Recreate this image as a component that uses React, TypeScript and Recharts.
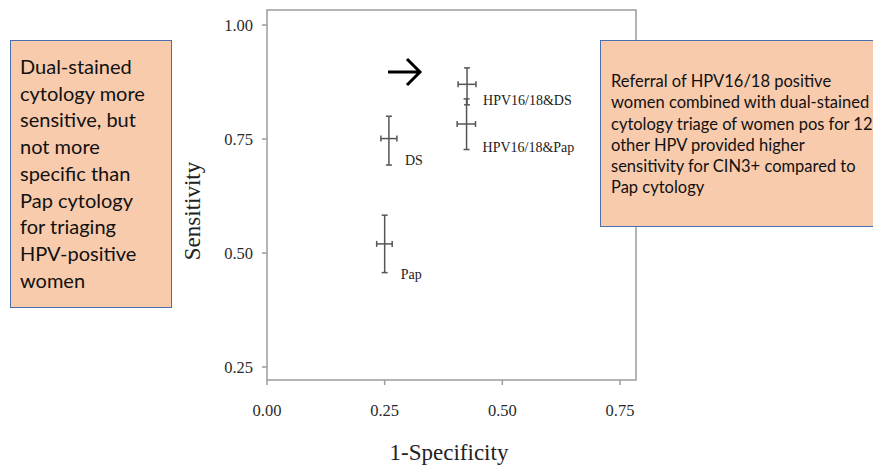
import React from "react";
import { ErrorBar, Label, ReferenceArea, Scatter, ScatterChart, XAxis, YAxis } from "recharts";

// Triage strategies: point estimates with 95% CI for 1-specificity (x) and sensitivity (y)
const strategies = ["Pap", "DS", "HPV16/18&DS", "HPV16/18&Pap"];
const fpr = [0.25, 0.259, 0.425, 0.424];
const fprLow = [0.233, 0.242, 0.406, 0.404];
const fprHigh = [0.266, 0.276, 0.444, 0.443];
const sens = [0.52, 0.751, 0.87, 0.783];
const sensLow = [0.457, 0.693, 0.825, 0.727];
const sensHigh = [0.583, 0.8, 0.906, 0.838];

const xTicks = [0, 0.25, 0.5, 0.75];
const yTicks = [0.25, 0.5, 0.75, 1.0];
const xDomain: [number, number] = [0, 0.784];
const yDomain: [number, number] = [0.2215, 1.033];

const leftNote = [
  "Dual-stained",
  "cytology more",
  "sensitive, but",
  "not more",
  "specific than",
  "Pap cytology",
  "for triaging",
  "HPV-positive",
  "women",
];
const rightNote = [
  "Referral of HPV16/18 positive",
  "women combined with dual-stained",
  "cytology triage of women pos for 12",
  "other HPV provided higher",
  "sensitivity for CIN3+ compared to",
  "Pap cytology",
];

const points = strategies.map((name, i) => ({
  name,
  fpr: fpr[i],
  sens: sens[i],
  fprErr: [fpr[i] - fprLow[i], fprHigh[i] - fpr[i]],
  sensErr: [sens[i] - sensLow[i], sensHigh[i] - sens[i]],
}));

// labels sit to the lower right of each cross; vertical nudge per strategy so they don't collide
const labelDy: Record<string, number> = {
  Pap: 31,
  DS: 22,
  "HPV16/18&DS": 16,
  "HPV16/18&Pap": 24,
};

const serif = "'Liberation Serif', 'Times New Roman', serif";
const frame = "#9c9c9c";
const barColor = "#555";

function PointLabel(props: any) {
  const { cx, cy, payload } = props;
  return (
    <text
      x={cx + 16}
      y={cy + (labelDy[payload.name] ?? 20)}
      dominantBaseline="central"
      fontFamily={serif}
      fontSize={14}
      fill="#222"
    >
      {payload.name}
    </text>
  );
}

const noteBox: React.CSSProperties = {
  position: "absolute",
  background: "#F8CBAD",
  border: "1px solid #4a6fb0",
  boxSizing: "border-box",
  fontFamily: "Lato, 'Open Sans', sans-serif",
  color: "#111",
  whiteSpace: "nowrap",
};

export default function App() {
  return (
    <div
      style={{
        position: "absolute",
        left: 0,
        top: 0,
        width: 873,
        height: 468,
        overflow: "hidden",
        background: "#fff",
      }}
    >
      <ScatterChart width={873} height={468} margin={{ top: 10, right: 237, bottom: 0, left: 0 }}>
        <XAxis
          type="number"
          dataKey="fpr"
          domain={xDomain}
          ticks={xTicks}
          allowDataOverflow
          height={88}
          axisLine={false}
          tickSize={5}
          tickMargin={19}
          tickLine={{ stroke: frame, strokeWidth: 1.5 }}
          tick={{ fill: "#2a2a2a", fontSize: 16.5, fontFamily: serif }}
          tickFormatter={(v: number) => v.toFixed(2)}
        >
          <Label
            content={() => (
              <text x={449} y={452} textAnchor="middle" dominantBaseline="central" fontFamily={serif} fontSize={23} fill="#222">
                1-Specificity
              </text>
            )}
          />
        </XAxis>
        <YAxis
          type="number"
          dataKey="sens"
          domain={yDomain}
          ticks={yTicks}
          allowDataOverflow
          width={267}
          axisLine={false}
          tickSize={5}
          tickMargin={9}
          tickLine={{ stroke: frame, strokeWidth: 1.5 }}
          tick={{ fill: "#2a2a2a", fontSize: 16.5, fontFamily: serif }}
          tickFormatter={(v: number) => v.toFixed(2)}
        >
          <Label
            content={() => (
              <text
                transform="translate(192,211) rotate(-90)"
                textAnchor="middle"
                dominantBaseline="central"
                fontFamily={serif}
                fontSize={23}
                fill="#222"
              >
                Sensitivity
              </text>
            )}
          />
        </YAxis>
        <ReferenceArea
          x1={xDomain[0]}
          x2={xDomain[1]}
          y1={yDomain[0]}
          y2={yDomain[1]}
          fill="none"
          stroke={frame}
          strokeWidth={1.5}
        />
        <Scatter data={points} shape={PointLabel} isAnimationActive={false}>
          <ErrorBar dataKey="fprErr" direction="x" width={3} stroke={barColor} strokeWidth={1.5} />
          <ErrorBar dataKey="sensErr" direction="y" width={3} stroke={barColor} strokeWidth={1.5} />
        </Scatter>
      </ScatterChart>

      <svg style={{ position: "absolute", left: 385, top: 55 }} width={40} height={34}>
        <path d="M3 17 H34 M22 4 L35 17 L22 30" fill="none" stroke="#000" strokeWidth={3} />
      </svg>

      <div style={{ ...noteBox, left: 10, top: 40, width: 162, height: 268, padding: "12px 0 0 9px", fontSize: 20, lineHeight: "26.7px" }}>
        {leftNote.map((line) => (
          <div key={line}>{line}</div>
        ))}
      </div>

      <div style={{ ...noteBox, left: 600, top: 40, width: 320, height: 187, padding: "30px 0 0 10px", fontSize: 16.5, lineHeight: "21.3px" }}>
        {rightNote.map((line) => (
          <div key={line}>{line}</div>
        ))}
      </div>
    </div>
  );
}
